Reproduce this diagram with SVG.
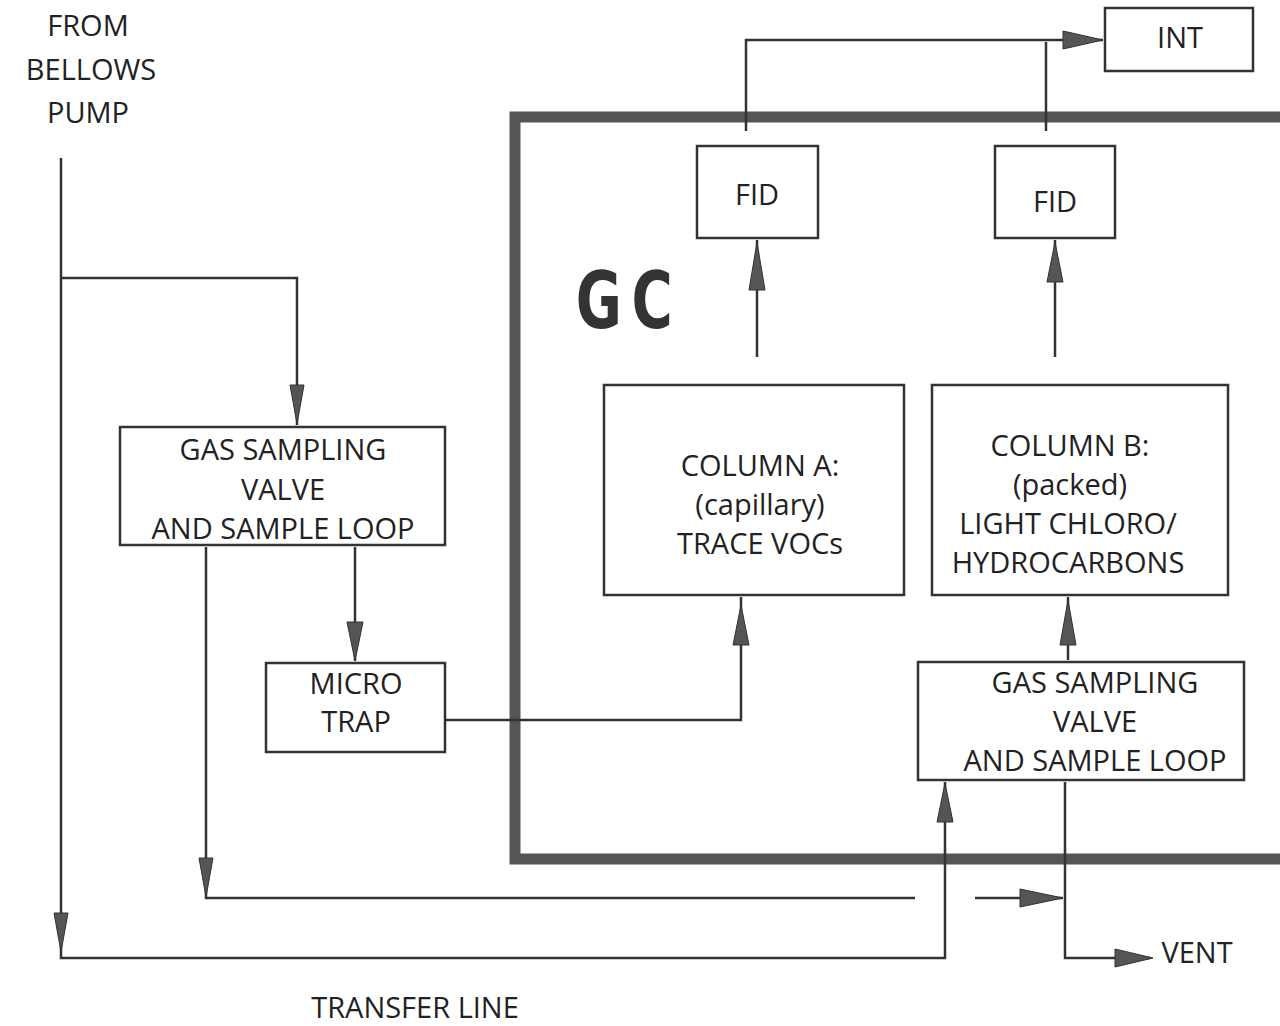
<svg xmlns="http://www.w3.org/2000/svg" width="1280" height="1026" viewBox="0 0 1280 1026">
<defs>
<style>
.t{font-family:"Open Sans","DejaVu Sans",sans-serif;font-size:29px;fill:#222;text-anchor:middle}
.b{fill:#fff;stroke:#333;stroke-width:2.5}
.c{fill:none;stroke:#333;stroke-width:2.5}
.a{fill:#555;stroke:#333;stroke-width:1}
</style>
</defs>
<rect width="1280" height="1026" fill="#fff"/>
<g id="gc">
<rect x="515" y="117" width="775" height="742" fill="none" stroke="#555" stroke-width="11"/>
<text transform="translate(629,328) scale(0.8,1)" font-family="DejaVu Sans Condensed,DejaVu Sans,sans-serif" font-weight="bold" font-size="78" fill="#333" text-anchor="middle" letter-spacing="12">GC</text>
</g>
<g id="connectors">
<path class="c" d="M61 158 V958 H945 V782"/>
<path class="c" d="M61 278 H297 V425"/>
<path class="c" d="M206 547 V898 H915"/>
<path class="c" d="M975 898 H1063"/>
<path class="c" d="M355 547 V661"/>
<path class="c" d="M446 720 H741 V597"/>
<path class="c" d="M757 357 V240"/>
<path class="c" d="M1055 357 V240"/>
<path class="c" d="M1068 660 V597"/>
<path class="c" d="M1065 782 V958 H1150"/>
<path class="c" d="M746 131 V40 H1103"/>
<path class="c" d="M1046 131 V42"/>
<polygon class="a" points="54,913 68,913 61,952"/>
<polygon class="a" points="290,385 304,385 297,424"/>
<polygon class="a" points="199,858 213,858 206,897"/>
<polygon class="a" points="347,622 363,622 355,661"/>
<polygon class="a" points="733,645 749,645 741,605"/>
<polygon class="a" points="937,822 953,822 945,783"/>
<polygon class="a" points="749,290 765,290 757,242"/>
<polygon class="a" points="1047,282 1063,282 1055,242"/>
<polygon class="a" points="1060,645 1076,645 1068,600"/>
<polygon class="a" points="1020,889 1020,907 1063,898"/>
<polygon class="a" points="1115,949 1115,967 1153,958"/>
<polygon class="a" points="1063,31 1063,49 1103,40"/>
</g>
<g id="from">
<text class="t" x="88" y="36" font-size="31">FROM</text>
<text class="t" x="91" y="80" font-size="31">BELLOWS</text>
<text class="t" x="88" y="123" font-size="31">PUMP</text>
</g>
<g id="gsv1">
<rect class="b" x="120" y="427" width="325" height="118"/>
<text class="t" x="283" y="460">GAS SAMPLING</text>
<text class="t" x="283" y="500">VALVE</text>
<text class="t" x="283" y="539">AND SAMPLE LOOP</text>
</g>
<g id="microtrap">
<rect class="b" x="266" y="663" width="179" height="89"/>
<text class="t" x="356" y="694">MICRO</text>
<text class="t" x="356" y="732">TRAP</text>
</g>
<g id="colA">
<rect class="b" x="604" y="385" width="300" height="210"/>
<text class="t" x="760" y="476">COLUMN A:</text>
<text class="t" x="760" y="515">(capillary)</text>
<text class="t" x="760" y="554">TRACE VOCs</text>
</g>
<g id="colB">
<rect class="b" x="932" y="385" width="296" height="210"/>
<text class="t" x="1070" y="456">COLUMN B:</text>
<text class="t" x="1070" y="495">(packed)</text>
<text class="t" x="1068" y="534">LIGHT CHLORO/</text>
<text class="t" x="1068" y="573">HYDROCARBONS</text>
</g>
<g id="gsv2">
<rect class="b" x="918" y="662" width="326" height="118"/>
<text class="t" x="1095" y="693">GAS SAMPLING</text>
<text class="t" x="1095" y="732">VALVE</text>
<text class="t" x="1095" y="771">AND SAMPLE LOOP</text>
</g>
<g id="fid1">
<rect class="b" x="697" y="146" width="121" height="92"/>
<text class="t" x="757" y="205" font-size="33">FID</text>
</g>
<g id="fid2">
<rect class="b" x="995" y="146" width="120" height="92"/>
<text class="t" x="1055" y="212" font-size="33">FID</text>
</g>
<g id="int">
<rect class="b" x="1105" y="8" width="148" height="63"/>
<text class="t" x="1180" y="48" font-size="35">INT</text>
</g>
<g id="labels">
<text class="t" x="1197" y="963" font-size="30">VENT</text>
<text class="t" x="415" y="1018" font-size="30">TRANSFER LINE</text>
</g>
</svg>
